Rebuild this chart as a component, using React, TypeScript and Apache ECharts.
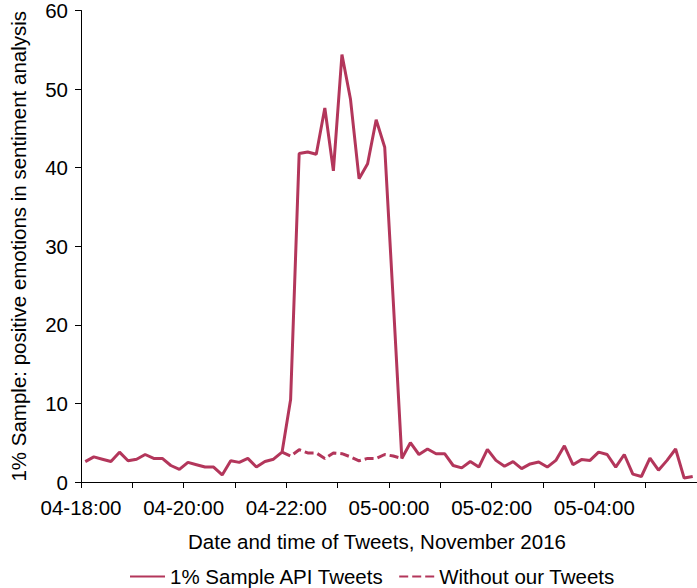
import React, { useEffect, useRef } from "react";
import * as echarts from "echarts";

// 10-minute bins starting at 04-18:00
const sampleApiTweets: number[] = [
  2.6, 3.2, 2.9, 2.6, 3.8, 2.7, 2.9, 3.5, 3.0, 3.0, 2.1, 1.6,
  2.5, 2.2, 1.9, 1.9, 0.9, 2.7, 2.5, 3.0, 1.9, 2.6, 2.9, 3.8,
  10.5, 41.8, 42.0, 41.7, 47.6, 39.6, 54.4, 48.7, 38.6, 40.5, 46.1, 42.6,
  23.0, 3.0, 5.0, 3.5, 4.2, 3.6, 3.6, 2.1, 1.8, 2.6, 1.9, 4.15,
  2.75, 2.0, 2.6, 1.7, 2.3, 2.55, 1.9, 2.75, 4.6, 2.2, 2.85, 2.75,
  3.8, 3.5, 1.9, 3.5, 1.0, 0.7, 3.05, 1.5, 2.75, 4.2, 0.5, 0.7,
];

const withoutOurTweets: (number | null)[] = [
  null, null, null, null, null, null, null, null, null, null, null, null,
  null, null, null, null, null, null, null, null, null, null, null, 3.8,
  3.3, 4.1, 3.7, 3.7, 3.0, 3.7, 3.6, 3.2, 2.7, 3.0, 3.0, 3.5,
  3.3, 3.0, null, null, null, null, null, null, null, null, null, null,
  null, null, null, null, null, null, null, null, null, null, null, null,
  null, null, null, null, null, null, null, null, null, null, null, null,
];

const xTickLabels = ["04-18:00", "04-20:00", "04-22:00", "05-00:00", "05-02:00", "05-04:00"];
const yTicks = [0, 10, 20, 30, 40, 50, 60];

const seriesNames = ["1% Sample API Tweets", "Without our Tweets"];
const xTitle = "Date and time of Tweets, November 2016";
const yTitle = "1% Sample: positive emotions in sentiment analysis";

const BIN_MIN = 10;
const binCenter = (i: number) => BIN_MIN / 2 + i * BIN_MIN;

const COLOR = "#b3365b";
const FONT = "Liberation Sans";
const FS = 20.5;

export default function App() {
  const ref = useRef<HTMLDivElement>(null);
  useEffect(() => {
    if (!ref.current) return;
    const chart = echarts.init(ref.current, null, { renderer: "svg" });
    const solid = sampleApiTweets.map((v, i) => [binCenter(i), v]);
    const dashed = withoutOurTweets.map((v, i) => [binCenter(i), v]);
    const totalMin = sampleApiTweets.length * BIN_MIN;
    const txt = { fontFamily: FONT, fontSize: FS, color: "#000" };
    chart.setOption({
      animation: false,
      textStyle: { fontFamily: FONT },
      grid: { left: 73, right: 0, top: 9, bottom: 106 },
      legend: {
        left: 129,
        top: 566,
        padding: 0,
        itemWidth: 35,
        itemHeight: 10,
        itemGap: 14,
        itemStyle: { opacity: 0 },
        textStyle: txt,
        data: seriesNames,
      },
      xAxis: {
        type: "value",
        min: 0,
        max: totalMin,
        interval: 60,
        name: xTitle,
        nameLocation: "middle",
        nameGap: 49,
        nameTextStyle: { ...txt, padding: [0, 24, 0, 0] },
        axisLine: { show: true, lineStyle: { color: "#000", width: 1 } },
        axisTick: { show: true, length: 6, lineStyle: { color: "#000" } },
        splitLine: { show: false },
        axisLabel: {
          ...txt,
          margin: 15,
          showMaxLabel: false,
          formatter: (v: number) => {
            if (v % 120 !== 0) return "";
            return xTickLabels[v / 120] ?? "";
          },
        },
      },
      yAxis: {
        type: "value",
        min: yTicks[0],
        max: yTicks[yTicks.length - 1],
        interval: 10,
        name: yTitle,
        nameLocation: "middle",
        nameGap: 52,
        nameTextStyle: txt,
        axisLine: { show: true, lineStyle: { color: "#000", width: 1 } },
        axisTick: { show: true, length: 6, lineStyle: { color: "#000" } },
        splitLine: { show: false },
        axisLabel: { ...txt, margin: 13 },
      },
      series: [
        {
          name: seriesNames[0],
          type: "line",
          data: solid,
          symbol: "none",
          lineStyle: { color: COLOR, width: 3 },
          itemStyle: { color: COLOR },
          z: 3,
        },
        {
          name: seriesNames[1],
          type: "line",
          data: dashed,
          symbol: "none",
          connectNulls: false,
          lineStyle: { color: COLOR, width: 3, type: [9, 4] },
          itemStyle: { color: COLOR },
          z: 2,
        },
      ],
    });
    return () => chart.dispose();
  }, []);
  return (
    <div
      ref={ref}
      style={{ position: "fixed", left: 0, top: 0, width: 697, height: 588, background: "#fff" }}
    />
  );
}
